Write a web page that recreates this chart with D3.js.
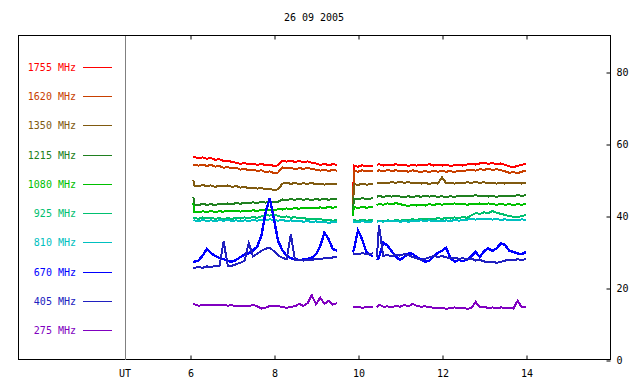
<!DOCTYPE html>
<html>
<head>
<meta charset="utf-8">
<script src="https://cdn.jsdelivr.net/npm/d3@7"></script>
<style>
  html, body { margin: 0; padding: 0; background: #fff; }
  svg { display: block; }
  text { font-family: "DejaVu Sans Mono", monospace; font-size: 10px; }
</style>
</head>
<body>
<svg id="chart" width="640" height="384"></svg>
<script>
// ---------------- DATA ----------------
const title = "26 09 2005";
const timeLabel = "UT";
const xTicks = [6, 8, 10, 12, 14];
const yTicks = [0, 20, 40, 60, 80];

// hours UT (null values in the series mark the observation gaps)
const times = [6.08,
  6.1,6.2,6.3,6.4,6.5,6.6,6.7,6.8,6.9,7.0,7.1,7.2,7.3,7.4,7.5,7.6,7.7,7.8,7.9,8.0,8.1,8.2,8.3,8.4,8.5,8.6,8.7,8.8,8.9,9.0,9.1,9.2,9.3,9.4,9.5,
  9.7,
  9.88,9.9,10.0,10.1,10.2,10.35,
  10.4,
  10.45,
  10.5,10.6,10.7,10.8,10.9,11.0,11.1,11.2,11.3,11.4,11.5,11.6,11.7,11.8,11.9,12.0,12.1,12.2,12.3,12.4,12.5,12.6,12.7,12.8,12.9,13.0,13.1,13.2,13.3,13.4,13.5,13.6,13.7,13.8,13.9,14.0];

const frequencies = ["1755 MHz","1620 MHz","1350 MHz","1215 MHz","1080 MHz","925 MHz","810 MHz","670 MHz","405 MHz","275 MHz"];
const colors = ["#ff0000","#c84000","#805a10","#208020","#00c000","#00c070","#00c0c0","#0000ff","#2020c0","#8000c0"];

const s1755 = [56.4,
  56.4,56.0,56.3,55.9,56.1,55.6,55.8,55.3,55.4,55.0,54.8,54.5,54.7,54.3,54.6,54.2,54.5,54.1,54.3,53.9,54.1,55.4,55.1,55.4,55.0,55.3,54.9,55.2,54.8,54.6,54.2,54.5,54.1,54.4,54.2,
  null,
  40,54.0,53.7,54.1,53.8,54.0,
  null,
  54.2,
  54.4,54.0,54.3,54.1,54.4,54.0,54.3,53.9,54.2,54.0,54.3,54.1,54.4,54.0,54.3,54.0,54.2,53.9,54.1,54.3,54.0,54.3,54.5,54.3,54.6,54.8,54.5,54.7,54.4,54.6,54.2,53.8,53.6,53.9,54.2,54.5];
const s1620 = [54.3,
  54.3,54.0,54.3,53.9,54.2,53.7,53.9,53.4,53.6,53.2,53.4,52.9,53.1,52.7,52.9,52.5,52.7,52.2,52.4,51.9,52.1,53.5,53.2,53.4,53.0,53.3,53.1,53.4,53.0,52.9,52.6,52.9,52.5,52.8,52.6,
  null,
  40,52.6,52.3,52.7,52.4,52.6,
  null,
  52.3,
  52.7,52.4,52.8,52.5,52.7,52.4,52.6,52.3,52.7,52.4,52.2,52.5,52.2,52.6,52.3,52.6,52.3,52.5,52.2,52.6,52.4,52.7,52.9,52.6,53.0,52.8,53.1,52.8,53.0,52.7,52.4,52.0,52.2,51.9,52.3,52.6];
const s1350 = [50.0,
  48.5,48.2,48.6,48.3,48.5,48.1,48.4,48.2,48.5,48.1,48.3,47.9,48.1,47.7,47.9,47.6,47.8,47.4,47.6,47.2,47.4,49.0,49.3,48.9,49.2,48.8,49.1,48.9,49.2,48.8,49.0,48.7,49.0,48.8,49.0,
  null,
  40,48.9,48.6,49.0,48.7,48.9,
  null,
  49.2,
  49.0,49.3,49.1,49.4,49.2,49.5,49.2,49.4,49.1,49.3,49.0,49.2,48.9,49.2,49.0,50.8,49.1,49.3,49.0,49.3,49.1,49.4,49.2,49.5,49.2,49.4,49.1,49.3,49.0,49.2,49.0,49.3,49.1,49.3,49.0,49.3];
const s1215 = [45.3,
  43.2,43.0,43.4,43.1,43.3,43.0,43.4,43.2,43.5,43.3,43.6,43.4,43.7,43.5,43.8,43.6,43.9,43.7,44.0,43.8,44.0,44.6,44.4,44.7,44.5,44.8,44.5,44.7,44.4,44.7,44.5,44.8,44.5,44.7,44.6,
  null,
  40,44.9,44.6,45.0,44.7,44.9,
  null,
  45.3,
  45.6,45.3,45.6,45.4,45.7,45.4,45.2,45.5,45.2,45.6,45.3,45.7,45.4,45.6,45.3,45.5,45.2,45.5,45.3,45.6,45.4,45.7,45.5,45.8,45.5,45.7,45.4,45.6,45.3,45.6,45.4,45.7,45.5,45.8,45.6,45.8];
const s1080 = [43.5,
  41.2,41.0,41.3,41.1,41.4,41.1,41.3,41.2,41.5,41.3,41.5,41.2,41.4,41.3,41.6,41.4,41.7,41.5,41.8,41.6,41.9,41.8,42.1,41.9,42.2,42.0,42.3,42.1,42.3,42.1,42.4,42.2,42.5,42.3,42.5,
  null,
  40,42.5,42.2,42.6,42.3,42.5,
  null,
  43.0,
  43.4,43.1,43.5,43.2,43.6,43.3,43.0,42.8,43.1,42.9,43.2,42.9,43.3,43.0,43.4,43.1,43.4,43.2,43.5,43.2,43.4,43.1,43.4,43.2,43.5,43.2,43.5,43.3,43.1,43.4,43.1,43.3,43.0,43.3,43.1,43.4];
const s925 = [39.5,
  39.5,39.2,39.6,39.3,39.5,39.2,39.4,39.1,39.4,39.2,39.5,39.3,39.6,39.4,39.7,39.5,39.9,40.3,40.1,40.4,40.0,39.7,39.9,39.5,39.7,39.3,39.5,39.1,39.3,39.0,39.2,38.8,39.0,38.7,38.9,
  null,
  38.8,38.9,38.6,39.0,38.7,38.9,
  null,
  38.4,
  38.7,38.5,38.8,38.6,38.9,38.7,39.0,38.8,39.1,38.9,39.2,39.0,39.3,39.1,39.4,39.2,39.5,39.3,39.6,39.4,39.7,39.5,40.2,40.8,40.6,41.0,40.8,41.4,40.9,40.6,40.3,40.0,39.8,39.6,40.0,40.3];
const s810 = [38.6,
  38.8,38.5,38.9,38.6,38.8,38.5,38.9,38.7,38.9,38.6,38.8,38.5,38.8,38.6,38.9,38.7,39.0,38.8,39.1,38.9,38.7,38.9,38.6,38.8,38.5,38.7,38.4,38.6,38.3,38.5,38.2,38.4,38.1,38.3,38.2,
  null,
  38.4,38.5,38.2,38.6,38.3,38.5,
  null,
  38.3,
  38.6,38.4,38.7,38.5,38.7,38.4,38.6,38.4,38.7,38.5,38.8,38.6,38.8,38.5,38.7,38.5,38.8,38.6,38.9,38.7,38.9,39.0,39.2,39.0,39.3,39.1,39.3,39.0,39.2,38.9,39.1,38.8,39.0,38.8,39.1,38.9];
const s670 = [27.3,
  27.3,27.6,29.0,30.8,29.7,28.9,28.4,28.0,27.5,27.3,27.8,28.6,29.3,29.6,30.4,31.5,34.5,41.0,45.0,39.0,33.0,30.5,29.0,28.3,28.0,27.8,27.9,28.1,28.4,29.4,31.6,35.4,33.6,30.8,30.4,
  null,
  30.0,30.6,36.0,33.5,30.0,28.8,
  null,
  27.8,
  28.5,32.6,31.8,30.2,28.7,27.8,28.6,29.6,29.5,28.6,28.0,27.3,27.6,28.7,29.8,30.3,31.2,28.3,27.3,27.8,27.4,28.0,28.8,30.0,28.6,30.2,31.0,30.3,31.0,32.4,32.0,30.4,30.0,29.6,29.4,30.0];
const s405 = [25.6,
  25.5,25.9,25.6,26.0,25.8,26.2,26.0,33.0,26.1,26.2,26.6,27.0,27.6,32.5,28.8,29.5,30.3,30.9,31.2,30.2,29.0,28.4,28.0,35.0,27.7,27.8,27.6,27.9,27.8,28.1,28.0,28.3,28.2,28.5,28.7,
  null,
  29.5,29.6,29.3,29.7,29.4,29.6,
  null,
  28.6,
  37.5,28.9,29.2,28.8,29.3,29.0,29.4,29.1,28.6,28.2,27.8,28.1,28.5,28.9,28.6,28.9,28.5,28.2,28.4,28.1,28.3,27.9,28.2,27.6,27.8,27.4,27.1,27.3,27.0,27.3,27.6,27.9,27.7,28.0,27.8,28.0];
const s275 = [15.5,
  15.5,15.1,15.2,15.4,15.3,15.2,15.4,15.3,15.1,15.2,15.0,15.1,14.9,15.0,15.3,14.9,14.3,14.5,15.0,15.1,15.0,14.7,14.5,14.8,14.9,15.6,15.0,15.8,18.0,15.5,17.3,15.6,16.4,15.4,15.8,
  null,
  14.6,14.6,14.8,14.5,14.7,14.6,
  null,
  14.7,
  15.4,14.8,14.9,14.7,15.0,14.8,15.3,14.9,15.6,15.0,14.8,14.9,14.7,14.5,14.3,14.5,14.2,14.4,14.6,14.3,14.5,14.2,14.4,16.2,14.6,14.7,14.5,14.6,14.4,14.6,14.5,14.4,14.3,16.5,14.6,14.8];

const seriesValues = [s1755, s1620, s1350, s1215, s1080, s925, s810, s670, s405, s275];

// ---------------- DRAW ----------------
const svg = d3.select("#chart");
svg.append("rect").attr("width", 640).attr("height", 384).attr("fill", "#fff");

const pLeft = 18, pRight = 610, pTop = 36, pBottom = 360, pSep = 125;
const x = d3.scaleLinear().domain([6, 14]).range([190, 526]);
const y = d3.scaleLinear().domain([0, 90]).range([pBottom, pTop]);

// title
svg.append("text").attr("x", 314).attr("y", 21).attr("text-anchor", "middle")
  .attr("fill", "#000").text(title);

// frame
svg.append("rect").attr("x", pLeft + 0.5).attr("y", pTop - 0.5)
  .attr("width", pRight - pLeft).attr("height", pBottom - pTop)
  .attr("fill", "none").attr("stroke", "#000").attr("stroke-width", 1);
// separator between legend and plot
svg.append("line").attr("x1", pSep + 0.5).attr("x2", pSep + 0.5)
  .attr("y1", pTop).attr("y2", pBottom)
  .attr("stroke", "#808080").attr("stroke-width", 1);

// x axis (bottom) with labels
const gx = svg.append("g").attr("transform", `translate(0.5,${pBottom - 0.5})`)
  .call(d3.axisBottom(x).tickValues(xTicks).tickSize(-4).tickSizeOuter(0).tickPadding(10).tickFormat(d3.format("d")));
gx.select(".domain").remove();
// x axis (top) ticks only
const gxt = svg.append("g").attr("transform", `translate(0.5,${pTop - 0.5})`)
  .call(d3.axisTop(x).tickValues(xTicks).tickSize(-4).tickSizeOuter(0).tickFormat(""));
gxt.select(".domain").remove();
svg.append("text").attr("x", pSep).attr("y", pBottom + 17).attr("text-anchor", "middle")
  .attr("fill", "#000").text(timeLabel);

// y axis on the right
const gy = svg.append("g").attr("transform", `translate(${pRight + 0.5},0.5)`)
  .call(d3.axisRight(y).tickValues(yTicks).tickSize(-4).tickSizeOuter(0).tickPadding(6).tickFormat(d3.format("d")));
gy.select(".domain").remove();

svg.selectAll(".tick text").attr("font-family", "DejaVu Sans Mono, monospace").attr("font-size", 10).attr("fill", "#000");
svg.selectAll(".tick line").attr("stroke", "#000");

// legend
const legY = d3.scaleLinear().domain([0, frequencies.length - 1]).range([67, 330]);
const leg = svg.append("g");
frequencies.forEach((f, i) => {
  const yy = Math.round(legY(i));
  leg.append("text").attr("x", 76).attr("y", yy + 4).attr("text-anchor", "end")
    .attr("fill", colors[i]).text(f);
  leg.append("line").attr("x1", 83).attr("x2", 112).attr("y1", yy + 0.5).attr("y2", yy + 0.5)
    .attr("stroke", colors[i]).attr("stroke-width", 1);
});

// series lines (highest frequency drawn first, lower ones on top)
const line = d3.line()
  .defined(d => d.v !== null)
  .x(d => x(d.t))
  .y(d => y(d.v));

seriesValues.forEach((vals, i) => {
  const data = times.map((t, k) => ({ t: t, v: vals[k] }));
  svg.append("path").datum(data)
    .attr("d", line)
    .attr("fill", "none")
    .attr("stroke", colors[i])
    .attr("stroke-width", i === 7 ? 2.4 : 2)
    .attr("stroke-linejoin", "miter")
    .attr("shape-rendering", "crispEdges");
});
</script>
</body>
</html>
